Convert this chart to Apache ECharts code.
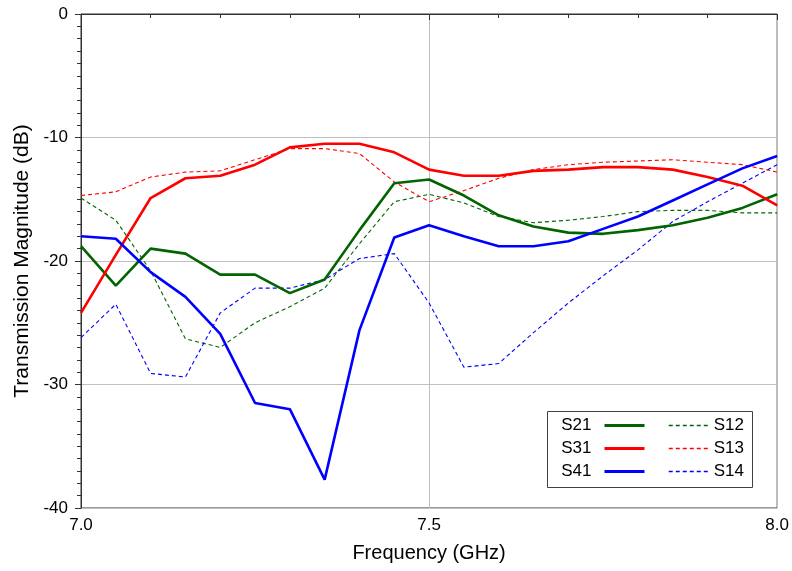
<!DOCTYPE html>
<html>
<head>
<meta charset="utf-8">
<script src="https://cdn.jsdelivr.net/npm/echarts@6/dist/echarts.min.js"></script>
<style>html,body{margin:0;padding:0;background:#fff}#c{width:792px;height:571px}</style>
</head>
<body>
<div id="c"></div>
<script>
const freq = [7.00,7.05,7.10,7.15,7.20,7.25,7.30,7.35,7.40,7.45,7.50,7.55,7.60,7.65,7.70,7.75,7.80,7.85,7.90,7.95,8.00];
const S21 = [-18.8,-22.0,-19.0,-19.4,-21.1,-21.1,-22.6,-21.5,-17.5,-13.7,-13.4,-14.7,-16.3,-17.2,-17.7,-17.8,-17.5,-17.1,-16.5,-15.7,-14.6];
const S31 = [-24.2,-19.5,-14.9,-13.3,-13.1,-12.2,-10.8,-10.5,-10.5,-11.2,-12.6,-13.1,-13.1,-12.7,-12.6,-12.4,-12.4,-12.6,-13.2,-13.9,-15.5];
const S41 = [-18.0,-18.2,-20.9,-22.9,-25.9,-31.5,-32.0,-37.7,-25.6,-18.1,-17.1,-18.0,-18.8,-18.8,-18.4,-17.4,-16.4,-15.1,-13.8,-12.5,-11.5];
const S12 = [-14.9,-16.7,-20.8,-26.3,-27.0,-25.0,-23.7,-22.2,-18.6,-15.2,-14.6,-15.3,-16.4,-16.9,-16.7,-16.4,-16.0,-15.9,-15.9,-16.1,-16.1];
const S13 = [-14.7,-14.4,-13.2,-12.8,-12.7,-11.8,-10.9,-10.9,-11.3,-13.6,-15.2,-14.3,-13.3,-12.6,-12.2,-12.0,-11.9,-11.8,-12.0,-12.2,-12.8];
const S14 = [-26.2,-23.5,-29.1,-29.4,-24.2,-22.2,-22.2,-21.5,-19.8,-19.4,-23.4,-28.6,-28.3,-25.8,-23.4,-21.2,-19.1,-16.8,-15.2,-13.7,-12.2];

const xTicks = [7.0, 7.5, 8.0];
const yTicks = [0, -10, -20, -30, -40];

const GREEN = '#006400', RED = '#ff0000', BLUE = '#0000ff';
const FONT = "'Liberation Sans', Arial, sans-serif";
const pair = arr => freq.map((f, i) => [f, arr[i]]);
function solid(name, data, color) {
  return {name, type:'line', data:pair(data), symbol:'none', showSymbol:false,
    lineStyle:{color, width:2.6, type:'solid'}, itemStyle:{color}, z:3};
}
function dashed(name, data, color) {
  return {name, type:'line', data:pair(data), symbol:'none', showSymbol:false,
    lineStyle:{color, width:1.1, type:[4,3]}, itemStyle:{color}, z:2};
}
const solidItem = (name, color) => ({name, itemStyle:{opacity:0}, lineStyle:{color, width:3, type:'solid'}});
const dashItem = (name, color) => ({name, itemStyle:{opacity:0}, lineStyle:{color, width:1.5, type:[4,3]}});

const chart = echarts.init(document.getElementById('c'), null, {renderer:'canvas'});
chart.setOption({
  animation:false,
  backgroundColor:'#fff',
  grid:{left:81, right:13, top:14, bottom:63, show:true, borderColor:'#333', borderWidth:1, backgroundColor:'#fff'},
  xAxis:{
    type:'value', min:xTicks[0], max:xTicks[xTicks.length-1], interval:0.5,
    name:'Frequency (GHz)', nameLocation:'middle', nameGap:35,
    nameTextStyle:{fontFamily:FONT, fontSize:20, color:'#000'},
    axisLine:{lineStyle:{color:'#333', width:1}},
    axisTick:{show:true, inside:false, length:6, lineStyle:{color:'#333'}},
    minorTick:{show:true, splitNumber:5, length:4, lineStyle:{color:'#333'}},
    axisLabel:{fontFamily:FONT, fontSize:17, color:'#000', margin:9, formatter:v=>v.toFixed(1)},
    splitLine:{show:true, lineStyle:{color:'#c0c0c0', width:1}}
  },
  yAxis:{
    type:'value', min:yTicks[yTicks.length-1], max:yTicks[0], interval:10,
    name:'Transmission Magnitude (dB)', nameLocation:'middle', nameGap:44,
    nameTextStyle:{fontFamily:FONT, fontSize:21, color:'#000'},
    axisLine:{show:true, lineStyle:{color:'#333', width:1}},
    axisTick:{show:true, inside:false, length:6, lineStyle:{color:'#333'}},
    minorTick:{show:true, splitNumber:10, length:4, lineStyle:{color:'#333'}},
    axisLabel:{fontFamily:FONT, fontSize:17, color:'#000', margin:13},
    splitLine:{show:true, lineStyle:{color:'#c0c0c0', width:1}}
  },
  legend:[
    {data:[solidItem('S21', GREEN), solidItem('S31', RED), solidItem('S41', BLUE)],
     orient:'vertical', align:'right', right:146, top:417, padding:0,
     itemWidth:40, itemHeight:17, itemGap:6, z:10,
     textStyle:{fontFamily:FONT, fontSize:17, color:'#000', padding:[0,8,0,0]}},
    {data:[dashItem('S12', GREEN), dashItem('S13', RED), dashItem('S14', BLUE)],
     orient:'vertical', align:'left', left:668, top:417, padding:0,
     itemWidth:40, itemHeight:17, itemGap:6, z:10,
     textStyle:{fontFamily:FONT, fontSize:17, color:'#000'}}
  ],
  graphic:[{type:'rect', z:1, shape:{x:547.5, y:411.5, width:205, height:76},
    style:{fill:'#fff', stroke:'#404040', lineWidth:1}}],
  series:[
    solid('S21', S21, GREEN),
    solid('S31', S31, RED),
    solid('S41', S41, BLUE),
    dashed('S12', S12, GREEN),
    dashed('S13', S13, RED),
    dashed('S14', S14, BLUE)
  ]
});
</script>
</body>
</html>
